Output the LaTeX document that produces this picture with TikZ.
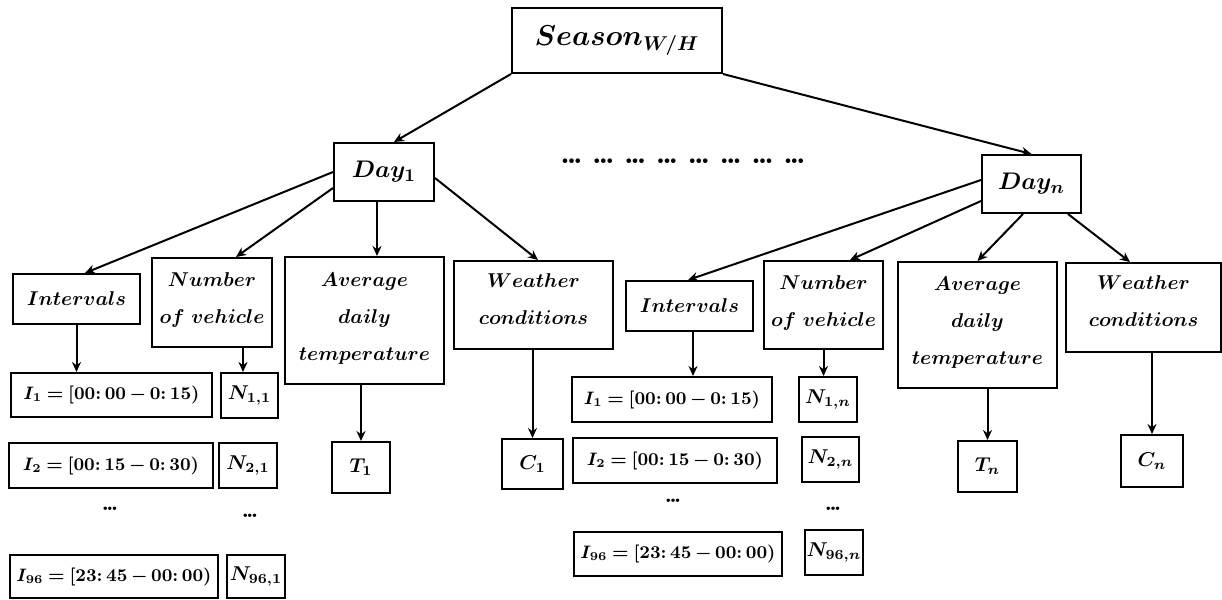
\documentclass[tikz,border=0pt]{standalone}
\usepackage{amsmath}
\usetikzlibrary{arrows.meta,calc}
\newcommand{\cl}{\mathpunct{:}}
\newcommand{\tdots}{.\kern-1.8pt.\kern-1.8pt.}
\newcommand{\sdots}{.\kern-1.5pt.\kern-1.5pt.}
\newcommand{\up}{\rule[-4pt]{0pt}{0pt}}
\newcommand{\iv}[1]{$\thickmuskip=4mu\relax\medmuskip=3mu\relax #1$}
\begin{document}
\begin{tikzpicture}[x=0.5pt,y=-0.5pt,
  box/.style={draw, line width=1pt, inner sep=0pt, align=center,
    font=\fontsize{10}{18.5}\selectfont\boldmath},
  bx/.style 2 args={box, minimum width={#1*0.5pt}, minimum height={#2*0.5pt}},
  ibox/.style={font=\fontsize{8.8}{11}\selectfont\boldmath},
  conn/.style={line width=1pt, -{Stealth[length=5pt,width=4.5pt]}},
  dots/.style={inner sep=0pt, font=\fontsize{12}{13}\selectfont\bfseries}]
\useasboundingbox (0,0) rectangle (1222,600);
% top
\node[bx={210}{65}, font=\fontsize{14}{16}\selectfont\boldmath] (season) at (617,40.5) {$Season_{W/H}$};
\node[bx={100}{58}, font=\fontsize{13}{15}\selectfont\boldmath] (day1) at (384,172) {$Day_{1}$};
\node[bx={99}{58}, font=\fontsize{13}{15}\selectfont\boldmath] (dayn) at (1031.5,184) {$Day_{n}$};
\node[inner sep=0pt, font=\fontsize{16}{18}\selectfont\bfseries] (mid) at (683,161)
  {\tdots\hspace{4.5pt}\tdots\hspace{4.5pt}\tdots\hspace{4.5pt}\tdots\hspace{4.5pt}\tdots\hspace{4.5pt}\tdots\hspace{4.5pt}\tdots\hspace{4.5pt}\tdots};
% left day
\node[bx={127}{50}] (intL) at (76.5,299) {$Intervals$};
\node[bx={120}{89}] (nvL) at (212,302.5) {$Number$\\$of\ vehicle$\up};
\node[bx={159}{127}] (avgL) at (364.5,320.5) {$Average$\\$daily$\\$temperature$\up};
\node[bx={159}{88}] (wcL) at (533.5,305) {$Weather$\\$conditions$\rule[-6pt]{0pt}{0pt}};
\node[bx={201}{44}, ibox] (i1L) at (111.5,395) {\iv{I_{1}=[00\cl 00-0\cl 15)}};
\node[bx={57}{45}] (n11) at (249.5,395.5) {$N_{1{,}1}$};
\node[bx={204}{45}, ibox] (i2L) at (111,465.5) {\iv{I_{2}=[00\cl 15-0\cl 30)}};
\node[bx={58}{45}] (n21) at (248,465.5) {$N_{2{,}1}$};
\node[dots] (dIL) at (110,509) {\sdots};
\node[dots] (dNL) at (250,516) {\sdots};
\node[bx={208}{43}, ibox] (i96L) at (114,576.5) {\iv{I_{96}=[23\cl 45-00\cl 00)}};
\node[bx={58}{43}] (n961) at (256,576.5) {$N_{96{,}1}$};
\node[bx={58}{51}] (t1) at (361,467.5) {$T_{1}$};
\node[bx={61}{50}] (c1) at (532.5,464) {$C_{1}$};
% right day
\node[bx={127}{50}] (intR) at (689.5,306) {$Intervals$};
\node[bx={119}{88}] (nvR) at (823.5,305) {$Number$\\$of\ vehicle$\up};
\node[bx={159}{126}] (avgR) at (977.5,325) {$Average$\\$daily$\\$temperature$\up};
\node[bx={155}{89}] (wcR) at (1143.5,307.5) {$Weather$\\$conditions$\rule[-6pt]{0pt}{0pt}};
\node[bx={200}{45}, ibox] (i1R) at (672,399.5) {\iv{I_{1}=[00\cl 00-0\cl 15)}};
\node[bx={58}{45}] (n1n) at (828,399.5) {$N_{1{,}n}$};
\node[bx={204}{45}, ibox] (i2R) at (675,460.5) {\iv{I_{2}=[00\cl 15-0\cl 30)}};
\node[bx={57}{45}] (n2n) at (830.5,459.5) {$N_{2{,}n}$};
\node[dots] (dIR) at (673,501) {\sdots};
\node[dots] (dNR) at (833,509) {\sdots};
\node[bx={208}{44}, ibox] (i96R) at (678,554) {\iv{I_{96}=[23\cl 45-00\cl 00)}};
\node[bx={58}{45}] (n96n) at (834,552.5) {$N_{96{,}n}$};
\node[bx={59}{51}] (tn) at (987.5,466.5) {$T_{n}$};
\node[bx={62}{52}] (cn) at (1152,461) {$C_{n}$};
% connectors
\draw[conn] (season.south west) -- ([xshift=5pt]day1.north);
\draw[conn] (season.south east) -- (dayn.north);
\draw[conn] (day1.west) -- ([xshift=4.25pt]intL.north);
\draw[conn] ([yshift=-8pt]day1.west) -- ([xshift=12pt]nvL.north);
\draw[conn] ([xshift=-3.5pt]day1.south) -- ([xshift=-3.5pt]day1.south |- avgL.north);
\draw[conn] ([yshift=-3pt]day1.east) -- ([xshift=2.25pt]wcL.north);
\draw[conn] ([yshift=2pt]dayn.west) -- ([xshift=-0.75pt]intR.north);
\draw[conn] ([yshift=-8.5pt]dayn.west) -- ([xshift=13.25pt]nvR.north);
\draw[conn] ([xshift=-4.25pt]dayn.south) -- (avgR.north);
\draw[conn] ([xshift=18.25pt]dayn.south) -- ([xshift=-6.75pt]wcR.north);
\draw[conn] (intL.south) -- (intL.south |- i1L.north);
\draw[conn] ([xshift=15.5pt]nvL.south) -- ([xshift=15.5pt]nvL.south |- n11.north);
\draw[conn] (t1.north |- avgL.south) -- (t1.north);
\draw[conn] (c1.north |- wcL.south) -- (c1.north);
\draw[conn] ([xshift=1.75pt]intR.south) -- ([xshift=1.75pt]intR.south |- i1R.north);
\draw[conn] (nvR.south) -- (nvR.south |- n1n.north);
\draw[conn] (tn.north |- avgR.south) -- (tn.north);
\draw[conn] (cn.north |- wcR.south) -- (cn.north);
\end{tikzpicture}
\end{document}
